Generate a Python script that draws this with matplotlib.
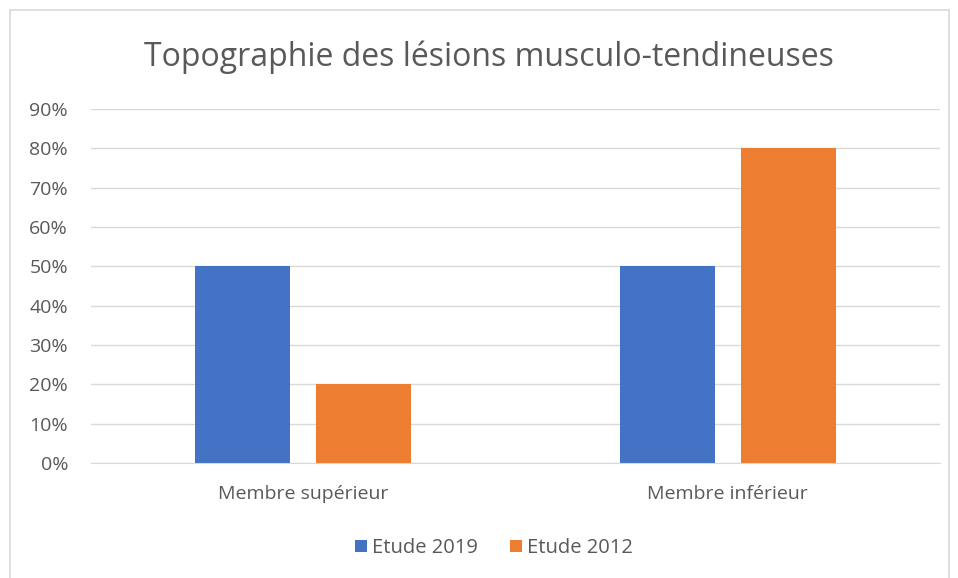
import matplotlib
matplotlib.use("Agg")
import matplotlib.pyplot as plt
from matplotlib.patches import Rectangle
import numpy as np

categories = ["Membre supérieur", "Membre inférieur"]
etude_2019 = [50, 50]
etude_2012 = [20, 80]
yticks = [0, 10, 20, 30, 40, 50, 60, 70, 80, 90]

plt.rcParams['font.family'] = ['Open Sans', 'DejaVu Sans']
txt = '#595959'

fig = plt.figure(figsize=(9.58, 5.78), dpi=100)
W, H = 958, 578
ax = fig.add_axes([91 / W, 1 - 463 / H, (940 - 91) / W, (463 - 109) / H])

x = np.arange(len(categories))
bw = 0.224
off = 0.1425
ax.bar(x - off, etude_2019, bw, color='#4472C4', label='Etude 2019', zorder=3)
ax.bar(x + off, etude_2012, bw, color='#ED7D31', label='Etude 2012', zorder=3)

ax.set_xlim(-0.5, 1.5)
ax.set_ylim(0, 90)
ax.set_yticks(yticks)
ax.set_yticklabels([f"{v}%" for v in yticks], color=txt, fontsize=14)
ax.set_xticks(x)
ax.set_xticklabels(categories, color=txt, fontsize=14)
ax.tick_params(length=0)
ax.tick_params(axis='y', pad=16.5)
ax.tick_params(axis='x', pad=16)
ax.grid(axis='y', color='#d9d9d9', linewidth=1, zorder=0)
for s in ['top', 'right', 'left']:
    ax.spines[s].set_visible(False)
ax.spines['bottom'].set_color('#d9d9d9')
ax.spines['bottom'].set_zorder(4)

fig.text(489 / W, 1 - 57 / H, "Topographie des lésions musculo-tendineuses",
         ha='center', va='center', fontsize=23, color=txt)

leg = fig.legend(loc='center', bbox_to_anchor=(494 / W, 1 - 548 / H), ncol=2,
                 frameon=False, fontsize=14.5, handlelength=0.6, handleheight=0.6,
                 handletextpad=0.25, columnspacing=1.6)
for t in leg.get_texts():
    t.set_color(txt)

fig.patches.append(Rectangle((10 / W, -0.05), (949 - 10) / W, 1 - 10 / H + 0.05,
                             transform=fig.transFigure, fill=False,
                             edgecolor='#d9d9d9', linewidth=1.2))

fig.savefig("out.png", dpi=100)
